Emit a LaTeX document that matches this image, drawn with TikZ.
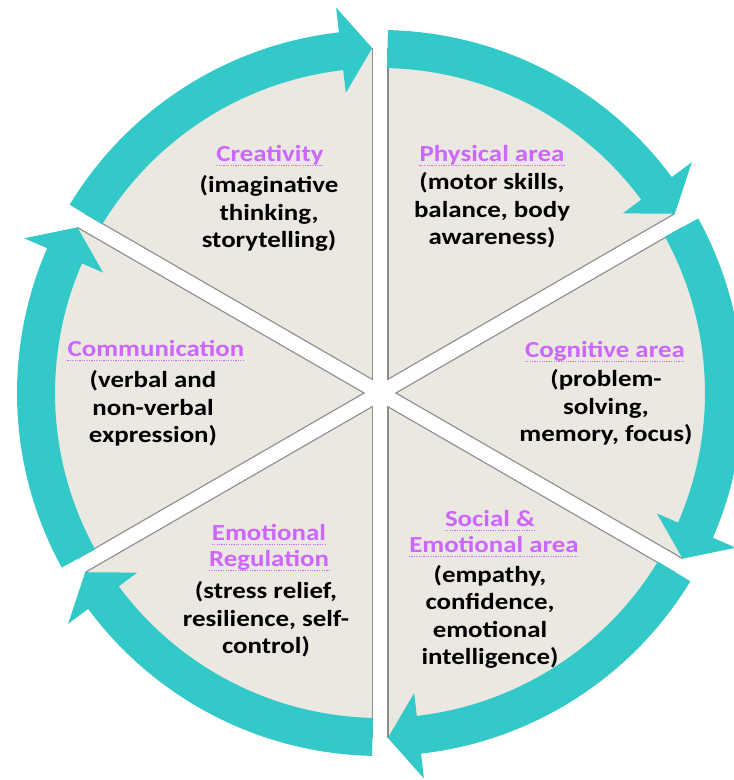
\documentclass[tikz,border=0pt]{standalone}
\usepackage{fontspec}
\setmainfont{Carlito}
\usetikzlibrary{calc}
\definecolor{band}{RGB}{51,201,201}
\definecolor{slice}{RGB}{235,232,225}
\definecolor{ttlc}{RGB}{204,102,255}
\definecolor{edgec}{RGB}{140,140,140}
\begin{document}
\begin{tikzpicture}[x=1pt,y=1pt,
  ttl/.style={text=ttlc, font=\fontsize{23}{26}\selectfont\bfseries, inner sep=0pt, anchor=base, xscale=1.17},
  body/.style={text=black, font=\fontsize{23}{27.5}\selectfont\bfseries, inner sep=0pt, align=center, anchor=base, xscale=1.17},
  uline/.style={ttlc, line width=1.2pt, dash pattern=on 1.2pt off 1.2pt},
  arrowband/.style={fill=band},
  gapedge/.style={edgec, line width=17pt},
  gapline/.style={white, line width=14.5pt}
]
\useasboundingbox (0,0) rectangle (734,780);
\coordinate (c) at (380,387);
% slices
\fill[slice] (c) circle[radius=345pt];
\begin{scope}
  \clip (c) circle[radius=345pt];
  \foreach \a in {90,30,150} \draw[gapedge] ($(c)+(\a:350pt)$) -- ($(c)+(\a+180:350pt)$);
\end{scope}
\foreach \a in {90,30,150} \draw[gapline] ($(c)+(\a:352pt)$) -- ($(c)+(\a+180:352pt)$);
% arrow bands
\foreach \k in {0,...,5} {
  \pgfmathsetmacro\s{90-60*\k-1.25}
  \pgfmathsetmacro\t{30-60*\k+1.3}
  \pgfmathsetmacro\hb{\t+5.2}
  \fill[arrowband] ($(c)+(\s:325pt)$) arc[start angle=\s, end angle=\hb, radius=325pt]
     -- ($(c)+(\hb:302pt)$) -- ($(c)+(\t:345pt)$) -- ($(c)+(\hb:388pt)$)
     -- ($(c)+(\hb:363pt)$) arc[start angle=\hb, end angle=\s, radius=363pt] -- cycle;
}
% texts (body nodes are placed at the baseline of their last line)
\node[ttl] (cre) at (270,618) {Creativity};
\node[body] (creb) at (269,532) {(imaginative\\thinking,\\storytelling)};
\node[ttl] (phy) at (492,618) {Physical area};
\node[body] (phyb) at (492,535) {(motor skills,\\balance, body\\awareness)};
\node[ttl] (cog) at (605,422) {Cognitive area};
\node[body] (cogb) at (606,338) {(problem-\\solving,\\memory, focus)};
\node[ttl] (soc1) at (490,253) {Social \&};
\node[ttl] (soc2) at (494,227) {Emotional area};
\node[body] (socb) at (490,115) {(empathy,\\confidence,\\emotional\\intelligence)};
\node[ttl] (emo1) at (269,239) {Emotional};
\node[ttl] (emo2) at (269,213) {Regulation};
\node[body] (emob) at (266,126) {(stress relief,\\resilience, self-\\control)};
\node[ttl] (com) at (156,423) {Communication};
\node[body] (comb) at (153,337) {(verbal and\\non-verbal\\expression)};
\foreach \n in {cre,phy,cog,soc1,soc2,emo1,emo2,com}
  \draw[uline] ($(\n.base west)+(0,-3.5)$) -- ($(\n.base east)+(0,-3.5)$);
\end{tikzpicture}
\end{document}
